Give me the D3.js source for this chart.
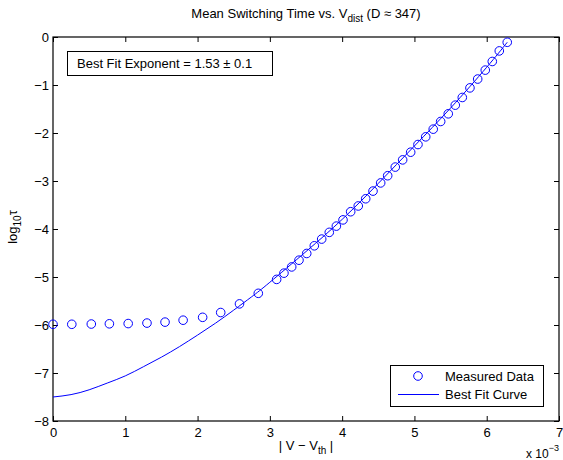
<!DOCTYPE html>
<html>
<head>
<meta charset="utf-8">
<script src="https://cdn.jsdelivr.net/npm/d3@7"></script>
<style>
  body { margin: 0; background: #fff; }
  svg { display: block; font-family: "Liberation Sans", Arial, Helvetica, sans-serif; }
</style>
</head>
<body>
<svg id="chart" width="563" height="460"></svg>
<script>
// Measured data (x in units of 1e-3)
const measuredX = [0, 0.26, 0.53, 0.78, 1.04, 1.30, 1.55, 1.80, 2.07, 2.32, 2.58, 2.84,
  3.094, 3.195, 3.302, 3.403, 3.51, 3.615, 3.717, 3.822, 3.92, 4.012, 4.118, 4.223, 4.326,
  4.427, 4.533, 4.63, 4.735, 4.837, 4.948, 5.049, 5.156, 5.26, 5.363, 5.468, 5.565, 5.662,
  5.768, 5.875, 5.98, 6.077, 6.174, 6.284];
const measuredY = [-5.985, -5.985, -5.98, -5.975, -5.97, -5.96, -5.94, -5.90, -5.84, -5.74, -5.56, -5.34,
  -5.05, -4.92, -4.79, -4.65, -4.51, -4.35, -4.21, -4.07, -3.94, -3.81, -3.64, -3.52, -3.37,
  -3.21, -3.04, -2.89, -2.71, -2.56, -2.40, -2.24, -2.08, -1.92, -1.76, -1.60, -1.42, -1.26,
  -1.06, -0.876, -0.69, -0.51, -0.29, -0.11];
// Best fit curve
const fitX = [0, 0.25, 0.5, 0.75, 1.0, 1.25, 1.5, 1.75, 2.0, 2.25, 2.5, 2.75, 3.0, 3.5, 4.0, 4.5, 5.0, 5.5, 6.0, 6.284];
const fitY = [-7.50, -7.45, -7.35, -7.21, -7.06, -6.87, -6.67, -6.45, -6.21, -5.96, -5.69, -5.41, -5.11, -4.47, -3.80, -3.05, -2.27, -1.48, -0.63, -0.11];
const xTicks = [0, 1, 2, 3, 4, 5, 6, 7];
const yTicks = [0, -1, -2, -3, -4, -5, -6, -7, -8];

const svg = d3.select("#chart");
const m = {left: 53, right: 559, top: 37, bottom: 421};
const x = d3.scaleLinear().domain([0, 7]).range([m.left, m.right]);
const y = d3.scaleLinear().domain([-8, 0]).range([m.bottom, m.top]);
const blue = "#0000ff";
const fs = 13;
const fmt = d => d < 0 ? "\u2212" + Math.abs(d) : String(d);

// axes with inward ticks on all four sides
const tl = 5;
svg.append("g").attr("transform", `translate(0,${m.bottom})`)
  .call(d3.axisBottom(x).tickValues(xTicks).tickSizeInner(-tl).tickSizeOuter(0).tickPadding(7).tickFormat(fmt));
svg.append("g").attr("transform", `translate(0,${m.top})`)
  .call(d3.axisTop(x).tickValues(xTicks).tickSizeInner(-tl).tickSizeOuter(0).tickFormat(""));
svg.append("g").attr("transform", `translate(${m.left},0)`)
  .call(d3.axisLeft(y).tickValues(yTicks).tickSizeInner(-tl).tickSizeOuter(0).tickPadding(4).tickFormat(fmt));
svg.append("g").attr("transform", `translate(${m.right},0)`)
  .call(d3.axisRight(y).tickValues(yTicks).tickSizeInner(-tl).tickSizeOuter(0).tickFormat(""));
svg.selectAll(".domain").remove();
svg.selectAll(".tick line").attr("stroke", "#000");
svg.selectAll(".tick text").attr("font-size", fs).attr("fill", "#000")
  .attr("font-family", "Liberation Sans, Arial, sans-serif");
svg.append("rect").attr("x", m.left).attr("y", m.top)
  .attr("width", m.right - m.left).attr("height", m.bottom - m.top)
  .attr("fill", "none").attr("stroke", "#000").attr("stroke-width", 1.2);

// fit curve
const fitData = fitX.map((d, i) => [d, fitY[i]]);
svg.append("path").datum(fitData)
  .attr("d", d3.line().x(d => x(d[0])).y(d => y(d[1])).curve(d3.curveNatural))
  .attr("fill", "none").attr("stroke", blue).attr("stroke-width", 1);

// measured markers
const measData = measuredX.map((d, i) => [d, measuredY[i]]);
svg.append("g").selectAll("circle").data(measData).join("circle")
  .attr("cx", d => x(d[0])).attr("cy", d => y(d[1])).attr("r", 4.3)
  .attr("fill", "none").attr("stroke", blue).attr("stroke-width", 1);

// title
const title = svg.append("text").attr("x", 306).attr("y", 18).attr("text-anchor", "middle")
  .attr("font-size", fs).attr("fill", "#000");
title.append("tspan").text("Mean Switching Time vs. V");
title.append("tspan").attr("font-size", 10).attr("dy", 4).text("dist");
title.append("tspan").attr("dy", -4).text(" (D \u2248 347)");

// x label
const xl = svg.append("text").attr("x", 306).attr("y", 450).attr("text-anchor", "middle")
  .attr("font-size", fs).attr("fill", "#000");
xl.append("tspan").text("| V \u2212 V");
xl.append("tspan").attr("font-size", 10).attr("dy", 4).text("th");
xl.append("tspan").attr("dy", -4).text(" |");

// x exponent
const ex = svg.append("text").attr("x", 526).attr("y", 458).attr("font-size", 12).attr("fill", "#000");
ex.append("tspan").text("x 10");
ex.append("tspan").attr("font-size", 9).attr("dy", -7).text("\u22123");

// y label
const yl = svg.append("text").attr("transform", "translate(17,227) rotate(-90)")
  .attr("text-anchor", "middle").attr("font-size", fs).attr("fill", "#000");
yl.append("tspan").text("log");
yl.append("tspan").attr("font-size", 10).attr("dy", 4).text("10");
yl.append("tspan").attr("dy", -4).text("\u03c4");

// annotation box
svg.append("rect").attr("x", 67.5).attr("y", 51.5).attr("width", 205).attr("height", 24)
  .attr("fill", "#fff").attr("stroke", "#000");
svg.append("text").attr("x", 77).attr("y", 68).attr("font-size", fs).attr("fill", "#000")
  .text("Best Fit Exponent = 1.53 \u00b1 0.1");

// legend
svg.append("rect").attr("x", 390.5).attr("y", 365.5).attr("width", 153).attr("height", 41)
  .attr("fill", "#fff").attr("stroke", "#000");
svg.append("circle").attr("cx", 418).attr("cy", 376).attr("r", 4.3)
  .attr("fill", "none").attr("stroke", blue);
svg.append("line").attr("x1", 398).attr("x2", 439).attr("y1", 394.5).attr("y2", 394.5)
  .attr("stroke", blue);
svg.append("text").attr("x", 445).attr("y", 381).attr("font-size", fs).attr("fill", "#000").text("Measured Data");
svg.append("text").attr("x", 445).attr("y", 399).attr("font-size", fs).attr("fill", "#000").text("Best Fit Curve");
</script>
</body>
</html>
